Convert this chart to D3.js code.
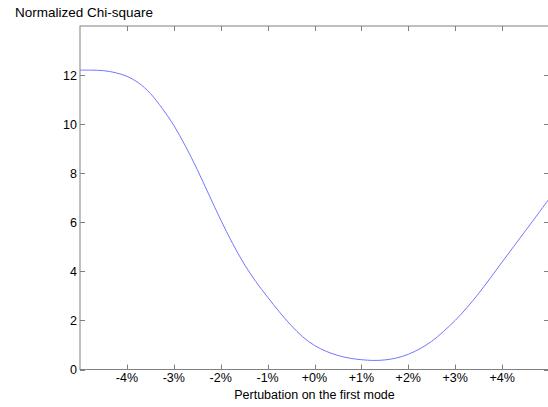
<!DOCTYPE html>
<html>
<head>
<meta charset="utf-8">
<script src="https://cdn.jsdelivr.net/npm/d3@7"></script>
<style>
  body { margin: 0; background: #fff; }
  text { font-family: "Liberation Sans", Arial, sans-serif; fill: #000; }
</style>
</head>
<body>
<div id="chart"></div>
<script>
// perturbation (%) and normalized chi-square values
const perturbation = [-5, -4.75, -4.5, -4.25, -4, -3.75, -3.5, -3.25, -3, -2.75, -2.5, -2.25, -2,
  -1.75, -1.5, -1.25, -1, -0.75, -0.5, -0.25, 0, 0.25, 0.5, 0.75, 1, 1.25, 1.5, 1.75, 2,
  2.25, 2.5, 2.75, 3, 3.25, 3.5, 3.75, 4, 4.25, 4.5, 4.75, 5];
const chiSquare = [12.2, 12.2, 12.18, 12.1, 11.95, 11.68, 11.25, 10.65, 9.95, 9.1, 8.15, 7.12, 6.1,
  5.15, 4.3, 3.58, 2.95, 2.35, 1.8, 1.33, 0.98, 0.74, 0.57, 0.46, 0.4, 0.37, 0.39, 0.47, 0.62,
  0.85, 1.15, 1.55, 2.0, 2.52, 3.1, 3.73, 4.38, 5.02, 5.66, 6.3, 6.95];
const xTicks = [-4, -3, -2, -1, 0, 1, 2, 3, 4];
const yTicks = [0, 2, 4, 6, 8, 10, 12];

const width = 548, height = 407;
const margin = {top: 26, right: 0, bottom: 38, left: 80};

const svg = d3.select('#chart').append('svg')
    .attr('width', width)
    .attr('height', height);

const x = d3.scaleLinear().domain([-5, 5]).range([margin.left, 549]);
const y = d3.scaleLinear().domain([0, 14]).range([369.5, margin.top]);

const axisColor = '#808080';
const tickLen = 5;

// frame and ticks (ticks point inward on all four sides)
const frame = svg.append('g');
frame.append('rect')
    .attr('x', x(-5)).attr('y', y(14))
    .attr('width', x(5) - x(-5)).attr('height', y(0) - y(14))
    .attr('fill', 'none').attr('stroke', axisColor).attr('stroke-width', 1);

xTicks.forEach(t => {
  const px = Math.round(x(t)) + 0.5;
  frame.append('line').attr('x1', px).attr('x2', px)
      .attr('y1', y(0)).attr('y2', y(0) - tickLen).attr('stroke', axisColor);
  frame.append('line').attr('x1', px).attr('x2', px)
      .attr('y1', y(14)).attr('y2', y(14) + tickLen).attr('stroke', axisColor);
  svg.append('text')
      .attr('x', x(t)).attr('y', 382)
      .attr('text-anchor', 'middle')
      .attr('font-size', 12.5)
      .text((t < 0 ? '' : '+') + t + '%');
});

yTicks.forEach(t => {
  const py = Math.round(y(t)) + 0.5;
  frame.append('line').attr('x1', x(-5)).attr('x2', x(-5) + tickLen)
      .attr('y1', py).attr('y2', py).attr('stroke', axisColor);
  frame.append('line').attr('x1', x(5)).attr('x2', x(5) - tickLen)
      .attr('y1', py).attr('y2', py).attr('stroke', axisColor);
  svg.append('text')
      .attr('x', x(-5) - 3).attr('y', y(t))
      .attr('dy', '0.36em')
      .attr('text-anchor', 'end')
      .attr('font-size', 12.5)
      .text(t);
});

// the curve
const line = d3.line()
    .x((d, i) => x(perturbation[i]))
    .y(d => y(d))
    .curve(d3.curveCatmullRom);

svg.append('path')
    .datum(chiSquare)
    .attr('d', line)
    .attr('fill', 'none')
    .attr('stroke', '#7575ff')
    .attr('stroke-width', 1);

// titles
svg.append('text')
    .attr('x', 15).attr('y', 17)
    .attr('font-size', 13.5)
    .text('Normalized Chi-square');

svg.append('text')
    .attr('x', (x(-5) + x(5)) / 2).attr('y', 399)
    .attr('text-anchor', 'middle')
    .attr('font-size', 12.5)
    .text('Pertubation on the first mode');
</script>
</body>
</html>
